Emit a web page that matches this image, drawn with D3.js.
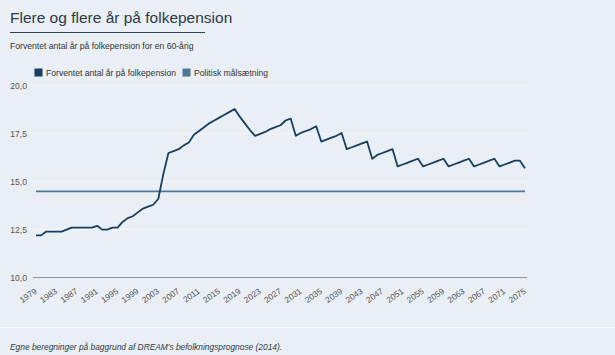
<!DOCTYPE html>
<html><head><meta charset="utf-8">
<script src="https://cdn.jsdelivr.net/npm/d3@7"></script>
<style>
html,body{margin:0;padding:0;background:#e9eff4;}
svg{display:block;}
text{font-family:Arial,"Liberation Sans",sans-serif;}
</style></head><body>
<svg id="c" width="615" height="355"></svg>
<script>
const years = d3.range(1979, 2076);
const pensionYears = [
 12.2,12.2,12.4,12.4,12.4,12.4,12.5,12.6,12.6,12.6, // 1979-1988
 12.6,12.6,12.7,12.5,12.5,12.6,12.6,12.9,13.1,13.2, // 1989-1998
 13.4,13.6,13.7,13.8,14.1,15.4,16.5,16.6,16.7,16.9, // 1999-2008
 17.05,17.45,17.65,17.85,18.05,18.2,18.35,18.5,18.65,18.8, // 2009-2018
 18.4,18.05,17.7,17.4,17.5,17.6,17.75,17.85,17.95,18.2, // 2019-2028
 18.3,17.4,17.55,17.65,17.75,17.9,17.1,17.2,17.3,17.4, // 2029-2038
 17.55,16.7,16.8,16.9,17.0,17.1,16.2,16.4,16.5,16.6, // 2039-2048
 16.7,15.8,15.9,16.0,16.1,16.2,15.8,15.9,16.0,16.1, // 2049-2058
 16.2,15.8,15.9,16.0,16.1,16.2,15.8,15.9,16.0,16.1, // 2059-2068
 16.2,15.8,15.9,16.0,16.1,16.1,15.7                  // 2069-2075
];
const targetValue = 14.5;
const yTicks = [10, 12.5, 15, 17.5, 20];
const xTickYears = d3.range(1979, 2076, 4);
const seriesNames = ["Forventet antal år på folkepension", "Politisk målsætning"];
const colors = ["#173f5f", "#4d7797"];

const svg = d3.select("#c");
const x = d3.scaleLinear().domain([1979, 2075]).range([36, 525]);
const y = d3.scaleLinear().domain([10, 20]).range([277.5, 86]);
const fmt = v => d3.format(".1f")(v).replace(".", ",");

// title
svg.append("text").attr("x", 10).attr("y", 23).attr("font-size", 15.5).attr("fill", "#2f3a44").text("Flere og flere år på folkepension");
svg.append("line").attr("x1", 10).attr("x2", 205).attr("y1", 32.5).attr("y2", 32.5).attr("stroke", "#2a3f52").attr("stroke-width", 1);
svg.append("text").attr("x", 10).attr("y", 49).attr("font-size", 8.6).attr("fill", "#333").text("Forventet antal år på folkepension for en 60-årig");

// legend
const lx = [34.5, 182.5];
seriesNames.forEach((n, i) => {
  svg.append("rect").attr("x", lx[i]).attr("y", 68.5).attr("width", 8).attr("height", 8).attr("fill", colors[i]);
  svg.append("text").attr("x", lx[i] + 11.5).attr("y", 75.5).attr("font-size", 8.6).attr("fill", "#333").text(n);
});

// grid
svg.append("g").selectAll("line").data(yTicks.filter(d => d !== 10)).join("line")
  .attr("x1", 32).attr("x2", 528).attr("y1", d => y(d)).attr("y2", d => y(d))
  .attr("stroke", "#f7f9fb").attr("stroke-width", 1);

// y axis labels
const yAxis = d3.axisLeft(y).tickValues(yTicks).tickFormat(fmt).tickSize(0).tickPadding(0);
const gy = svg.append("g").attr("transform", "translate(27,0)").call(yAxis);
gy.select(".domain").remove();
gy.selectAll("text").attr("font-size", 8.6).attr("fill", "#555").attr("font-family", "Arial, 'Liberation Sans', sans-serif");

// x axis
const xAxis = d3.axisBottom(x).tickValues(xTickYears).tickFormat(d3.format("d")).tickSize(0).tickPadding(0);
const gx = svg.append("g").attr("transform", `translate(0,${y(10)})`).call(xAxis);
gx.select(".domain").remove();
gx.selectAll("text").attr("font-size", 8.4).attr("fill", "#555").attr("font-family", "Arial, 'Liberation Sans', sans-serif")
  .attr("text-anchor", "end").attr("dy", 0).attr("y", 0)
  .attr("transform", "translate(1,15) rotate(-35)");
svg.append("line").attr("x1", 33).attr("x2", 527).attr("y1", y(10)).attr("y2", y(10)).attr("stroke", "#8796a2").attr("stroke-width", 1);

// target line
svg.append("path").datum(years.map(d => [d, targetValue]))
  .attr("d", d3.line().x(d => x(d[0])).y(d => y(d[1])))
  .attr("fill", "none").attr("stroke", colors[1]).attr("stroke-width", 1.8);

// main series
svg.append("path").datum(years.map((d, i) => [d, pensionYears[i]]))
  .attr("d", d3.line().x(d => x(d[0])).y(d => y(d[1])))
  .attr("fill", "none").attr("stroke", colors[0]).attr("stroke-width", 1.8).attr("stroke-linejoin", "round");

// separator + footer
svg.append("line").attr("x1", 0).attr("x2", 615).attr("y1", 327.5).attr("y2", 327.5).attr("stroke", "#fafcfd").attr("stroke-width", 1);
svg.append("text").attr("x", 10).attr("y", 350).attr("font-size", 8.4).attr("font-style", "italic").attr("fill", "#2f3a44")
  .text("Egne beregninger på baggrund af DREAM's befolkningsprognose (2014).");
</script>
</body></html>
